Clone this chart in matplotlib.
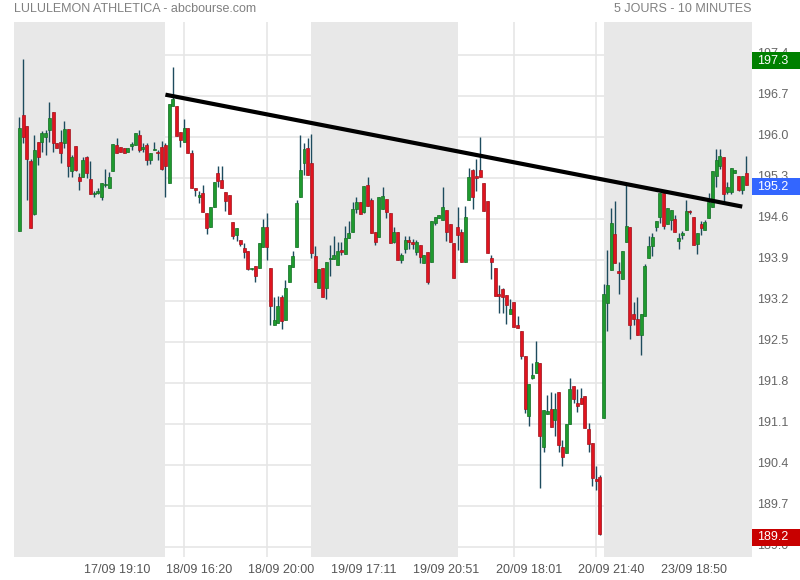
import numpy as np
import matplotlib.pyplot as plt
from matplotlib.patches import Rectangle
from matplotlib.transforms import ScaledTranslation, blended_transform_factory

# 10-minute candles, 5 sessions of 39 bars
opens = [
    194.40, 196.37, 196.19, 195.59, 194.69, 195.91, 195.92, 195.99, 196.12, 196.42,
    195.90, 195.91, 195.90, 196.13, 195.41, 195.85, 195.32, 195.32, 195.66, 195.28,
    195.03, 195.05, 194.98, 195.18, 195.13, 195.41, 195.86, 195.82, 195.81, 195.75,
    195.85, 195.86, 196.03, 195.80, 195.86, 195.61, 195.78, 195.74, 195.83, 195.86,
    195.21, 196.52, 196.52, 196.08, 195.92, 196.15, 195.72, 195.12, 194.98, 195.04,
    194.70, 194.47, 194.81, 195.38, 195.27, 195.06, 195.01, 194.54, 194.33, 194.24,
    194.10, 194.06, 193.75, 193.80, 193.76, 194.12, 194.46, 193.76, 192.79, 192.82,
    193.26, 192.88, 193.52, 193.78, 194.12, 194.98, 195.56, 195.81, 195.56, 193.97,
    193.42, 193.76, 193.42, 193.92, 193.91, 193.81, 194.07, 194.00, 194.27, 194.38,
    194.77, 194.89, 194.72, 195.18, 194.92, 194.37, 194.29, 194.77, 194.94, 194.70,
    194.21, 194.37, 193.90, 194.08, 194.24, 194.20, 194.04, 194.16, 193.84, 194.03,
    193.87, 194.53, 194.61, 194.58, 194.75, 194.51, 194.19, 194.47, 194.38, 193.87,
    194.92, 195.44, 195.33, 195.44, 195.21, 194.91, 193.94, 193.76, 193.32, 193.40,
    193.30, 192.97, 193.18, 192.79, 192.69, 192.26, 191.24, 191.89, 191.97, 192.14,
    190.71, 191.27, 191.35, 191.16, 191.64, 190.70, 190.60, 191.10, 191.75, 191.45,
    191.54, 191.58, 191.01, 190.78, 190.16, 190.19, 191.21, 193.16, 193.73, 194.34,
    193.71, 193.57, 194.20, 194.46, 192.98, 192.90, 192.61, 192.94, 193.93, 194.13,
    194.47, 194.63, 195.05, 194.51, 194.58, 194.60, 194.23, 194.33, 194.41, 194.74,
    194.64, 194.17, 194.51, 194.41, 194.61, 194.81, 195.33, 195.51, 195.65, 195.06,
    195.06, 195.38, 195.33, 195.09, 195.38]
highs = [
    196.34, 197.33, 196.19, 195.62, 196.03, 195.91, 196.10, 196.12, 196.59, 196.42,
    195.90, 196.12, 196.27, 196.13, 195.69, 195.85, 195.38, 195.66, 195.68, 195.58,
    195.07, 195.12, 195.21, 195.45, 195.40, 195.88, 195.98, 195.82, 195.81, 195.81,
    195.91, 196.06, 196.12, 195.89, 195.89, 195.73, 195.92, 195.78, 195.93, 195.90,
    196.56, 197.20, 196.52, 196.08, 196.30, 196.15, 195.78, 195.12, 195.07, 195.18,
    194.70, 194.81, 195.23, 195.50, 195.50, 195.06, 195.01, 194.54, 194.44, 194.24,
    194.19, 194.06, 193.77, 193.80, 194.19, 194.59, 194.70, 193.76, 193.27, 193.29,
    193.30, 193.55, 193.81, 194.06, 194.92, 196.03, 195.90, 195.98, 196.05, 194.14,
    193.74, 193.76, 193.87, 194.16, 194.30, 194.21, 194.20, 194.48, 194.57, 194.89,
    194.98, 194.89, 195.16, 195.32, 194.95, 194.37, 194.98, 195.14, 194.94, 194.70,
    194.47, 194.37, 194.01, 194.30, 194.31, 194.25, 194.24, 194.16, 193.99, 194.03,
    194.57, 194.64, 194.67, 195.14, 194.75, 194.51, 194.19, 194.80, 194.42, 194.82,
    195.47, 195.45, 195.62, 196.00, 195.21, 194.91, 193.99, 193.76, 193.47, 193.42,
    193.30, 193.23, 193.18, 192.94, 192.69, 192.26, 191.79, 192.14, 192.51, 192.14,
    191.34, 191.60, 191.64, 191.63, 191.64, 190.83, 191.10, 191.89, 191.75, 191.69,
    191.72, 191.58, 191.12, 190.78, 190.38, 190.23, 193.49, 194.07, 194.78, 194.90,
    193.87, 194.05, 195.18, 194.46, 193.19, 193.26, 192.98, 193.83, 194.30, 194.36,
    194.57, 195.04, 195.09, 194.79, 194.75, 194.67, 194.36, 194.40, 194.92, 194.75,
    194.64, 194.36, 194.57, 194.58, 195.04, 195.41, 195.79, 195.79, 195.65, 195.23,
    195.47, 195.44, 195.33, 195.33, 195.68]
lows = [
    194.40, 195.90, 194.92, 194.45, 194.66, 195.52, 195.75, 195.69, 195.92, 195.75,
    195.81, 195.56, 195.81, 195.31, 195.32, 195.41, 195.09, 195.32, 195.29, 195.02,
    194.98, 195.03, 194.92, 195.15, 195.13, 195.41, 195.72, 195.75, 195.73, 195.75,
    195.78, 195.86, 195.75, 195.75, 195.52, 195.54, 195.78, 195.61, 195.44, 194.97,
    195.21, 196.52, 196.02, 195.83, 195.92, 195.73, 195.12, 194.99, 194.87, 194.72,
    194.34, 194.47, 194.81, 195.15, 195.12, 194.74, 194.69, 194.26, 194.23, 194.13,
    193.93, 193.73, 193.73, 193.53, 193.76, 194.12, 193.89, 192.79, 192.79, 192.82,
    192.72, 192.88, 193.52, 193.78, 194.12, 194.98, 195.35, 195.35, 193.93, 193.52,
    193.42, 193.27, 193.23, 193.63, 193.91, 193.81, 193.99, 194.00, 194.27, 194.38,
    194.70, 194.68, 194.70, 194.82, 194.36, 194.16, 194.29, 194.77, 194.61, 194.19,
    194.19, 193.90, 193.84, 194.02, 194.08, 194.08, 193.99, 193.84, 193.84, 193.49,
    193.87, 194.50, 194.61, 194.58, 194.23, 194.21, 193.59, 194.07, 193.87, 193.87,
    194.92, 194.77, 195.07, 195.32, 194.74, 194.02, 193.57, 193.29, 193.00, 193.00,
    192.81, 192.97, 192.75, 192.73, 192.21, 191.28, 191.07, 191.87, 191.97, 190.00,
    190.63, 191.27, 191.04, 190.89, 190.63, 190.39, 190.60, 191.10, 191.45, 191.31,
    191.44, 191.03, 190.63, 190.05, 189.97, 189.20, 191.21, 192.68, 193.73, 193.84,
    193.31, 193.57, 194.20, 192.55, 192.79, 192.61, 192.28, 192.94, 193.93, 193.96,
    194.40, 194.53, 194.42, 194.51, 194.41, 194.38, 194.08, 194.25, 194.41, 194.69,
    194.16, 194.00, 194.33, 194.41, 194.61, 194.81, 195.15, 195.45, 194.87, 195.03,
    195.03, 195.38, 195.08, 195.03, 195.17]
closes = [
    196.15, 196.00, 195.62, 194.45, 195.78, 195.66, 196.06, 196.06, 196.32, 195.90,
    195.81, 195.72, 196.13, 195.51, 195.65, 195.44, 195.24, 195.61, 195.38, 195.02,
    195.05, 195.08, 195.21, 195.20, 195.31, 195.88, 195.72, 195.75, 195.73, 195.81,
    195.86, 196.06, 195.78, 195.83, 195.60, 195.73, 195.80, 195.72, 195.45, 195.50,
    196.56, 196.64, 196.02, 195.95, 196.15, 195.73, 195.12, 195.09, 195.01, 194.72,
    194.45, 194.81, 195.23, 195.25, 195.12, 194.90, 194.69, 194.31, 194.44, 194.17,
    194.04, 193.75, 193.76, 193.63, 194.19, 194.46, 194.12, 193.12, 192.88, 193.11,
    192.86, 193.42, 193.81, 193.97, 194.87, 195.44, 195.79, 195.35, 194.01, 193.52,
    193.74, 193.27, 193.87, 193.94, 193.99, 194.05, 194.03, 194.27, 194.36, 194.77,
    194.89, 194.68, 195.16, 194.82, 194.36, 194.20, 194.98, 194.99, 194.72, 194.19,
    194.38, 193.90, 193.99, 194.24, 194.21, 194.18, 194.21, 193.95, 193.99, 193.53,
    194.57, 194.63, 194.67, 194.81, 194.38, 194.21, 193.59, 194.33, 193.87, 194.63,
    195.32, 194.98, 195.29, 195.32, 194.74, 194.02, 193.87, 193.29, 193.29, 193.26,
    193.13, 193.06, 192.75, 192.73, 192.26, 191.35, 191.79, 191.94, 192.15, 190.89,
    191.34, 191.32, 191.04, 191.35, 190.74, 190.53, 191.10, 191.69, 191.52, 191.40,
    191.44, 191.03, 190.76, 190.17, 190.13, 189.22, 193.31, 193.47, 194.53, 193.84,
    193.68, 194.05, 194.48, 192.79, 192.90, 192.61, 192.98, 193.80, 194.14, 194.29,
    194.57, 195.04, 194.48, 194.79, 194.75, 194.38, 194.27, 194.36, 194.74, 194.72,
    194.16, 194.36, 194.44, 194.54, 194.88, 195.41, 195.61, 195.68, 195.02, 195.14,
    195.47, 195.44, 195.09, 195.33, 195.18]

day_starts = [39, 78, 117, 156]
tick_pos = [22, 44, 66, 88, 110, 132, 154, 176]
tick_labels = ['17/09 19:10', '18/09 16:20', '18/09 20:00', '19/09 17:11',
               '19/09 20:51', '20/09 18:01', '20/09 21:40', '23/09 18:50']
price_ticks = [189.0, 189.7, 190.4, 191.1, 191.8, 192.5, 193.2,
               193.9, 194.6, 195.3, 196.0, 196.7, 197.4]
trend_x = [39, 193]
trend_y = [196.72, 194.81]

plt.rcParams['font.family'] = ['Liberation Sans', 'DejaVu Sans']

fig = plt.figure(figsize=(8, 5.8), dpi=100)
ax = fig.add_axes([14 / 800, 23 / 580, 738 / 800, 535 / 580])
xmin, xmax = -1.42, 195.6
ax.set_xlim(xmin, xmax)
ax.set_ylim(188.83, 197.96)

# alternating session shading (drawn over the grid)
edges = [xmin] + day_starts + [xmax]
for k in range(0, len(edges) - 1, 2):
    ax.axvspan(edges[k], edges[k + 1], color='#e8e8e8', lw=0, zorder=1)

ax.set_axisbelow(True)
ax.grid(True, color='#e6e6e6', lw=1.2)

o = np.array(opens)
h = np.array(highs)
l = np.array(lows)
c = np.array(closes)
x = np.arange(len(o))
up = c >= o
body_col = np.where(up, '#1f9a2e', '#e0141f')
edge_col = np.where(up, '#137024', '#a3121c')

ax.vlines(x, l, h, color='#1d4b5e', lw=1, zorder=3)
ax.bar(x, np.maximum(np.abs(c - o), 0.02), bottom=np.minimum(o, c), width=0.8,
       color=body_col, edgecolor=edge_col, linewidth=0.5, zorder=4)

ax.plot(trend_x, trend_y, color='black', lw=3, solid_capstyle='butt', zorder=5)

for s in ax.spines.values():
    s.set_visible(False)

ax.yaxis.tick_right()
ax.set_yticks(price_ticks)
ax.set_yticklabels([f'{v:.1f}' for v in price_ticks])
ax.tick_params(axis='y', length=0, pad=4, labelsize=9, labelcolor='#666666')
up_shift = ScaledTranslation(0, 0.025, fig.dpi_scale_trans)
for lbl in ax.get_yticklabels():
    lbl.set_transform(lbl.get_transform() + up_shift)

ax.set_xticks(tick_pos)
ax.set_xticklabels(tick_labels)
ax.tick_params(axis='x', length=0, pad=5, labelsize=9, labelcolor='#555555')
shift = ScaledTranslation(0.15, 0, fig.dpi_scale_trans)
for lbl in ax.get_xticklabels():
    lbl.set_transform(lbl.get_transform() + shift)

# price tags on the right axis (they sit over the axis labels, as in the source)
trans = blended_transform_factory(ax.transAxes, ax.transData)
box_w = 48 / 738
box_h = 0.29
tags = [(max(highs), '#008000'), (closes[-1], '#3366ff'), (min(lows), '#c80000')]
for val, col in tags:
    yc = val - 0.03
    ax.add_patch(Rectangle((1.0, yc - box_h / 2), box_w, box_h, transform=trans,
                           facecolor=col, lw=0, clip_on=False, zorder=6))
    ax.text(1.0 + 5 / 738, yc, f'{val:.1f}', transform=trans, color='white',
            fontsize=9, va='center', ha='left', clip_on=False, zorder=7)

fig.text(14 / 800, 1 - 9 / 580, 'LULULEMON ATHLETICA - abcbourse.com',
         fontsize=9, color='#808080', va='center')
fig.text(751 / 800, 1 - 9 / 580, '5 JOURS - 10 MINUTES',
         fontsize=9, color='#808080', va='center', ha='right')

fig.savefig('out.png', dpi=100)
